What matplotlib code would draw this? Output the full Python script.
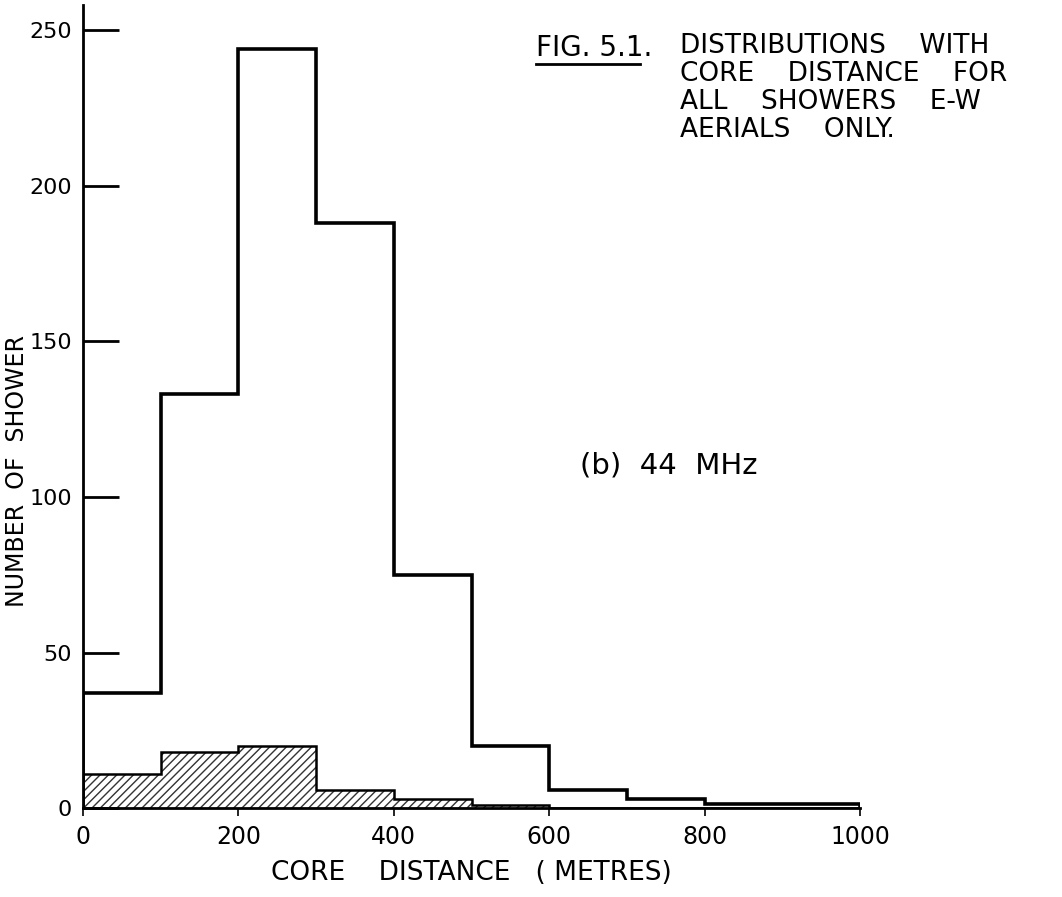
import numpy as np
import matplotlib.pyplot as plt

# bin edges (metres) and counts
edges = [0, 100, 200, 300, 400, 500, 600, 700, 800, 900, 1000]
all_showers = [37, 133, 244, 188, 75, 20, 6, 3, 1.5, 1.5]
hatched = [11, 18, 20, 6, 3, 1, 0, 0, 0, 0]

yticks = [0, 50, 100, 150, 200, 250]
xticks = [0, 200, 400, 600, 800, 1000]

plt.rcParams['font.family'] = ['DejaVu Sans']

fig = plt.figure(figsize=(10.62, 8.97), dpi=100)
ax = fig.add_axes([0.078, 0.099, 0.732, 0.895])

widths = np.diff(edges)
ax.bar(edges[:-1], hatched, width=widths, align='edge', color='white',
       edgecolor='#333333', hatch='////', linewidth=0)
ax.stairs(hatched, edges, color='black', linewidth=1.8)
ax.stairs(all_showers, edges, color='black', linewidth=2.6)

ax.set_xlim(0, 1000)
ax.set_ylim(0, 258)
ax.set_xticks(xticks)
ax.set_yticks(yticks)
ax.tick_params(axis='y', direction='in', length=26, width=2, labelsize=16, pad=8)
ax.tick_params(axis='x', direction='out', length=6, width=1.2, labelsize=17, pad=6)
for s in ['top', 'right']:
    ax.spines[s].set_visible(False)
ax.spines['left'].set_linewidth(2)
ax.spines['bottom'].set_linewidth(2)

ax.set_xlabel('CORE    DISTANCE   ( METRES)', fontsize=19, labelpad=8)
fig.text(0.016, 0.475, 'NUMBER  OF  SHOWER', fontsize=17, rotation=90,
         ha='center', va='center')

fig.text(0.505, 0.947, 'FIG. 5.1.', fontsize=20, ha='left', va='center')
fig.lines.append(plt.Line2D([0.505, 0.603], [0.929, 0.929], color='black',
                            linewidth=2, transform=fig.transFigure))
fig.text(0.64, 0.963, 'DISTRIBUTIONS    WITH\nCORE    DISTANCE    FOR\nALL    SHOWERS    E-W\nAERIALS    ONLY.',
         fontsize=19, ha='left', va='top', linespacing=1.1)
ax.text(640, 110, '(b)  44  MHz', fontsize=21, ha='left', va='center')

fig.savefig('out.png', dpi=100)
